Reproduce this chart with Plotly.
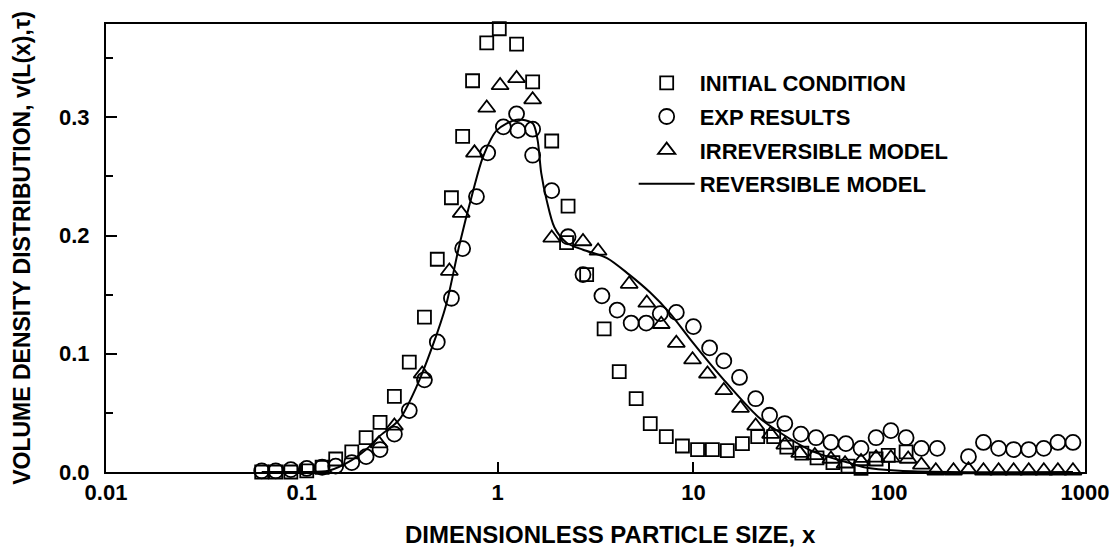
import plotly.graph_objects as go

# ---- data ----
sq_x = [0.0624, 0.0736, 0.0879, 0.106, 0.127, 0.149, 0.180, 0.213, 0.251, 0.297,
        0.354, 0.423, 0.492, 0.581, 0.663, 0.745, 0.880, 1.02, 1.25, 1.51,
        1.89, 2.25, 2.29, 2.85, 3.50, 4.18, 5.10, 6.02, 7.27, 8.79,
        10.5, 12.5, 14.9, 17.8, 21.3, 25.7, 30.0, 35.8, 42.8, 51.6,
        61.6, 71.8, 85.7, 98.9, 122]
sq_y = [0.0, 0.0, 0.0, 0.001, 0.004, 0.011, 0.017, 0.029, 0.042, 0.064,
        0.093, 0.131, 0.180, 0.232, 0.284, 0.331, 0.363, 0.375, 0.362, 0.330,
        0.280, 0.194, 0.225, 0.167, 0.121, 0.085, 0.062, 0.041, 0.030, 0.022,
        0.019, 0.019, 0.018, 0.024, 0.030, 0.030, 0.021, 0.016, 0.012, 0.008,
        0.005, 0.003, 0.011, 0.014, 0.017]

ci_x = [0.0624, 0.0736, 0.0879, 0.106, 0.127, 0.149, 0.180, 0.213, 0.251, 0.297,
        0.354, 0.423, 0.492, 0.581, 0.663, 0.780, 0.89, 1.07, 1.25, 1.27,
        1.51, 1.51, 1.89, 2.29, 2.73, 3.41, 4.08, 4.81, 5.74, 6.77,
        8.18, 10.0, 12.1, 14.3, 17.2, 20.8, 24.5, 29.3, 35.4, 42.3,
        50.4, 60.1, 71.8, 85.7, 102, 122, 146, 176, 254, 303,
        362, 432, 516, 616, 727, 868]
ci_y = [0.001, 0.001, 0.002, 0.003, 0.004, 0.005, 0.008, 0.013, 0.019, 0.032,
        0.052, 0.078, 0.110, 0.147, 0.189, 0.233, 0.270, 0.292, 0.303, 0.289,
        0.290, 0.268, 0.238, 0.199, 0.167, 0.149, 0.137, 0.126, 0.126, 0.134,
        0.135, 0.123, 0.105, 0.094, 0.080, 0.062, 0.048, 0.041, 0.032, 0.029,
        0.025, 0.024, 0.020, 0.029, 0.035, 0.029, 0.020, 0.020, 0.013, 0.025,
        0.020, 0.019, 0.019, 0.020, 0.025, 0.025]

tr_x = [0.248, 0.297, 0.412, 0.567, 0.652, 0.762, 0.880, 1.03, 1.25, 1.51,
        1.89, 2.73, 3.26, 4.70, 5.78, 6.85, 8.18, 9.9, 11.8, 14.3,
        17.4, 20.8, 24.8, 29.3, 34.9, 41.7, 50.4, 59.5, 71.8, 85.7,
        102, 125, 146, 173, 213, 254, 303, 362, 432, 516,
        616, 727, 868]
tr_y = [0.024, 0.039, 0.083, 0.170, 0.219, 0.270, 0.308, 0.327, 0.333, 0.315,
        0.198, 0.195, 0.187, 0.159, 0.143, 0.125, 0.109, 0.095, 0.083, 0.069,
        0.054, 0.039, 0.032, 0.023, 0.016, 0.014, 0.011, 0.007, 0.009, 0.012,
        0.012, 0.011, 0.006, 0.001, 0.001, 0.002, 0.001, 0.001, 0.001, 0.001,
        0.001, 0.001, 0.001]

ln_x = [0.0624, 0.10, 0.137, 0.18, 0.213, 0.248, 0.314, 0.385, 0.464, 0.547,
        0.638, 0.745, 0.84, 0.99, 1.25, 1.51, 1.60, 1.67, 1.78, 1.95,
        2.25, 2.73, 3.62, 4.7, 6.0, 7.62, 9.66, 14.3, 21.3, 27.9,
        41.2, 61.6, 74.5, 113, 200, 868]
ln_y = [0.0, 0.0, 0.001, 0.010, 0.019, 0.030, 0.044, 0.072, 0.106, 0.142,
        0.192, 0.236, 0.266, 0.289, 0.298, 0.295, 0.281, 0.253, 0.230, 0.207,
        0.194, 0.188, 0.181, 0.167, 0.152, 0.134, 0.112, 0.078, 0.047, 0.033,
        0.017, 0.008, 0.004, 0.001, 0.0, 0.0]

names = ["INITIAL CONDITION", "EXP RESULTS", "IRREVERSIBLE MODEL", "REVERSIBLE MODEL"]
y_ticks = [0.0, 0.1, 0.2, 0.3]
x_ticks = [0.01, 0.1, 1, 10, 100, 1000]
x_ticklabels = ["0.01", "0.1", "1", "10", "100", "1000"]
x_title = "DIMENSIONLESS PARTICLE SIZE, x"
y_title = "VOLUME DENSITY DISTRIBUTION, v(L(x),τ)"

FONT = "Liberation Sans, Arial, Helvetica, sans-serif"

fig = go.Figure()
fig.add_trace(go.Scatter(x=sq_x, y=sq_y, mode="markers", name=names[0], legendgroup="a",
                         marker=dict(symbol="square-open", size=13, color="black",
                                     line=dict(color="black", width=1.8)),
                         cliponaxis=False))
fig.add_trace(go.Scatter(x=ci_x, y=ci_y, mode="markers", name=names[1], legendgroup="b",
                         marker=dict(symbol="circle-open", size=15, color="black",
                                     line=dict(color="black", width=1.8)),
                         cliponaxis=False))
fig.add_trace(go.Scatter(x=tr_x, y=tr_y, mode="markers", name=names[2], legendgroup="c",
                         marker=dict(symbol="triangle-up-open", size=15, color="black",
                                     line=dict(color="black", width=1.8)),
                         cliponaxis=False))
fig.add_trace(go.Scatter(x=ln_x, y=ln_y, mode="lines", name=names[3], legendgroup="d",
                         line=dict(color="black", width=2, shape="spline", smoothing=0.8)))

fig.update_layout(
    width=1119, height=551,
    margin=dict(l=106, r=34, t=24, b=79, autoexpand=False),
    paper_bgcolor="white", plot_bgcolor="white",
    font=dict(family=FONT, size=22, color="black", weight="bold"),
    showlegend=True,
    legend=dict(x=0.539, y=0.915, xanchor="left", yanchor="top",
                bgcolor="rgba(0,0,0,0)", borderwidth=0, itemwidth=56,
                font=dict(family=FONT, size=22, color="black", weight="bold"),
                tracegroupgap=2, traceorder="grouped"),
    annotations=[dict(text=x_title, xref="paper", yref="paper", x=0.515, y=-0.1406,
                      xanchor="center", yanchor="middle", showarrow=False,
                      font=dict(family=FONT, size=24, color="black", weight="bold"))],
)
fig.update_xaxes(
    type="log", range=[-2, 3], automargin=False,
    tickvals=x_ticks, ticktext=x_ticklabels,
    ticks="inside", ticklen=10, tickwidth=1.5, tickcolor="black",
    showline=True, linecolor="black", linewidth=2, mirror=True,
    showgrid=False, zeroline=False,
    tickfont=dict(family=FONT, size=22, weight="bold"),
)
fig.update_yaxes(
    range=[0, 0.379], automargin=False,
    tickvals=y_ticks, tickformat=".1f",
    ticks="inside", ticklen=11, tickwidth=1.5, tickcolor="black",
    minor=dict(dtick=0.05, ticks="inside", ticklen=7, tickwidth=1.5, tickcolor="black"),
    showline=True, linecolor="black", linewidth=2, mirror=True,
    showgrid=False, zeroline=False,
    ticklabelstandoff=10,
    tickfont=dict(family=FONT, size=22, weight="bold"),
    title=dict(text=y_title, standoff=22,
               font=dict(family=FONT, size=23, weight="bold")),
)

fig.write_html("out.html")
